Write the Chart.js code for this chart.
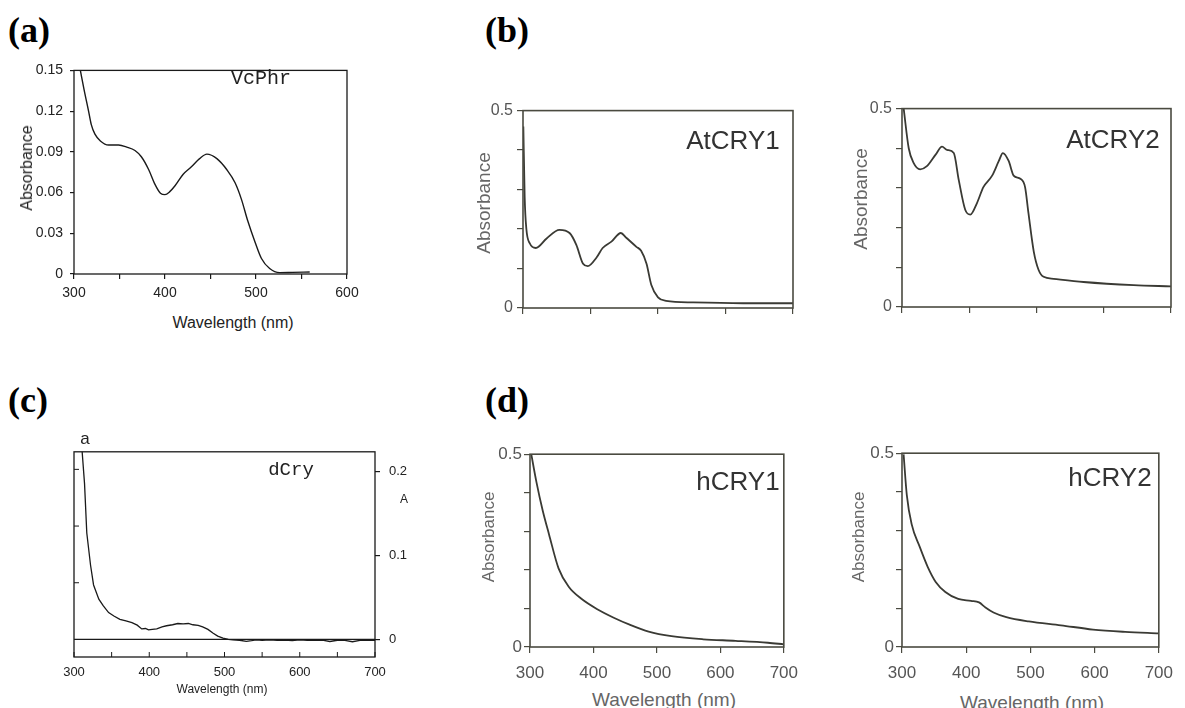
<!DOCTYPE html>
<html>
<head>
<meta charset="utf-8">
<script src="https://cdn.jsdelivr.net/npm/chart.js@4.4.0/dist/chart.umd.min.js"></script>
<style>
  html, body { margin: 0; padding: 0; background: #fff; }
  #fig { position: relative; width: 1185px; height: 708px; overflow: hidden; background: #fff; }
  .lbl { position: absolute; white-space: nowrap; line-height: 1; transform: translate(-50%, -50%); }
  .tag { position: absolute; font: bold 36px "Liberation Serif", serif; color: #000; line-height: 1; }
</style>
</head>
<body>
<div id="fig"></div>
<script>
'use strict';

// --- DATA ---
// (a) VcPhr
const wlVc  = [307, 311, 316, 319, 323, 329, 338, 349, 358, 367, 374, 382, 389, 395, 400, 405, 411, 420, 429, 438, 446, 457, 468, 477, 484, 491, 499, 506, 515, 526, 540, 559];
const absVc = [0.150, 0.136, 0.120, 0.110, 0.103, 0.098, 0.095, 0.095, 0.0935, 0.091, 0.0864, 0.077, 0.066, 0.0595, 0.0585, 0.0605, 0.065, 0.0735, 0.079, 0.085, 0.0883, 0.085, 0.0768, 0.0672, 0.055, 0.039, 0.0234, 0.0114, 0.004, 0.001, 0.0012, 0.0015];

// (b) AtCRY1 / AtCRY2
const wlAt1  = [300.5, 302.5, 305, 310, 319, 335, 354, 369, 379, 389, 396, 409, 418, 431, 445, 453, 468, 475, 483, 490, 500, 512, 552, 626, 700];
const absAt1 = [0.46, 0.28, 0.20, 0.164, 0.152, 0.176, 0.198, 0.19, 0.16, 0.112, 0.106, 0.128, 0.152, 0.168, 0.19, 0.178, 0.155, 0.145, 0.112, 0.059, 0.027, 0.018, 0.014, 0.012, 0.012];
const wlAt2  = [302.5, 310, 317, 327, 337, 350, 359.5, 367, 377, 384.5, 394, 401.6, 411.5, 421, 434, 444, 450, 458.6, 466, 476, 483, 488, 496, 503, 510.6, 525.5, 570, 644.5, 700];
const absAt2 = [0.5, 0.4, 0.364, 0.347, 0.355, 0.384, 0.404, 0.396, 0.388, 0.319, 0.245, 0.233, 0.262, 0.302, 0.331, 0.368, 0.388, 0.368, 0.331, 0.323, 0.302, 0.237, 0.139, 0.094, 0.076, 0.071, 0.063, 0.055, 0.052];

// (c) dCry
const wlDc  = [309, 311, 314, 317, 322, 326, 333, 339, 346, 353, 361, 369, 377, 384, 390, 395, 399, 404, 410, 417, 423, 431, 438, 445, 452, 458, 465, 471, 478, 485, 491, 498, 505, 511, 520, 529, 536, 542, 550, 560, 570, 580, 590, 600, 610, 620, 630, 640, 650, 660, 670, 680, 690, 700];
const absDc = [0.25, 0.222, 0.186, 0.127, 0.0885, 0.065, 0.048, 0.040, 0.032, 0.028, 0.024, 0.022, 0.020, 0.017, 0.0125, 0.013, 0.0113, 0.012, 0.0125, 0.015, 0.0163, 0.0175, 0.019, 0.0185, 0.019, 0.0175, 0.0168, 0.015, 0.012, 0.0074, 0.004, 0.0016, 0.000, -0.0004, -0.001, -0.0023, -0.0015, -0.0004, -0.001, -0.0005, -0.0012, -0.0008, -0.0015, -0.0006, -0.001, -0.0012, -0.0008, -0.0025, -0.001, -0.0012, -0.0028, -0.0012, -0.0008, -0.0010];
const wlZero  = [300, 700];
const absZero = [0, 0];

// (d) hCRY1 / hCRY2
const wlH1  = [302, 310, 320, 330, 345, 361, 381, 406, 432, 457, 487, 523, 573, 624, 675, 700];
const absH1 = [0.5, 0.429, 0.354, 0.292, 0.204, 0.156, 0.125, 0.098, 0.076, 0.058, 0.040, 0.028, 0.020, 0.016, 0.011, 0.007];
const wlH2  = [302.5, 307.5, 315, 327.5, 340, 352.5, 367.5, 387.5, 407.5, 420, 430, 442.5, 462.5, 497.5, 547.5, 597.5, 647.5, 700];
const absH2 = [0.497, 0.392, 0.317, 0.259, 0.207, 0.168, 0.142, 0.124, 0.119, 0.115, 0.102, 0.089, 0.077, 0.066, 0.056, 0.045, 0.039, 0.035];

// --- TICKS ---
const aTickX = [300, 350, 400, 450, 500, 550, 600];
const aTickXLabels = ['300', '', '400', '', '500', '', '600'];
const aTickY = [0, 0.03, 0.06, 0.09, 0.12, 0.15];
const aTickYLabels = ['0', '0.03', '0.06', '0.09', '0.12', '0.15'];

const bdTickX = [300, 400, 500, 600, 700];
const bTickXLabels = ['', '', '', '', ''];
const dTickXLabels = ['300', '400', '500', '600', '700'];
const bdTickY = [0, 0.1, 0.2, 0.3, 0.4, 0.5];
const bdTickYLabels = ['0', '', '', '', '', '0.5'];

const cTickX = [300, 350, 400, 450, 500, 550, 600, 650, 700];
const cTickXLabels = ['300', '', '400', '', '500', '', '600', '', '700'];
const cTickY = [0, 0.1, 0.2];
const cTickYLabels = ['0', '0.1', '0.2'];
const cTickLeft = [1, 2, 3];

// --- HELPERS ---
const fig = document.getElementById('fig');

function addText(txt, cx, cy, css, rot) {
    const d = document.createElement('div');
    d.className = 'lbl';
    d.textContent = txt;
    d.style.cssText = `left:${cx}px;top:${cy}px;${css}` + (rot ? 'transform:translate(-50%,-50%) rotate(-90deg);' : '');
    fig.appendChild(d);
}

function addTag(txt, left, top) {
    const d = document.createElement('div');
    d.className = 'tag';
    d.textContent = txt;
    d.style.left = left + 'px';
    d.style.top = top + 'px';
    fig.appendChild(d);
}

// box around the plot area + inward ticks where the original has them
const framePlugin = {
    id: 'frame',
    afterDraw(chart, args, opts) {
        const { ctx, chartArea: ca } = chart;
        ctx.save();
        ctx.strokeStyle = opts.color;
        ctx.lineWidth = opts.width;
        ctx.strokeRect(ca.left, ca.top, ca.right - ca.left, ca.bottom - ca.top);
        (opts.inner || []).forEach(spec => {
            const s = chart.scales[spec.axis];
            ctx.lineWidth = 1;
            s.ticks.forEach(t => {
                const p = s.getPixelForValue(t.value);
                ctx.beginPath();
                if (s.isHorizontal()) {
                    ctx.moveTo(p, ca.bottom);
                    ctx.lineTo(p, ca.bottom - spec.len);
                } else {
                    ctx.moveTo(ca.left, p);
                    ctx.lineTo(ca.left + spec.len, p);
                }
                ctx.stroke();
            });
        });
        ctx.restore();
    }
};

function makeAxis(o) {
    return {
        type: 'linear',
        axis: o.axis,
        position: o.pos,
        min: o.min,
        max: o.max,
        afterBuildTicks: s => { s.ticks = o.vals.map(v => ({ value: v })); },
        afterFit: s => { if (o.axis === 'x') s.height = o.size; else s.width = o.size; },
        ticks: {
            display: !!o.labels,
            autoSkip: false,
            maxRotation: 0,
            minRotation: 0,
            padding: o.pad || 0,
            color: o.color,
            font: o.font,
            callback: (v, i) => (o.labels ? o.labels[i] : '')
        },
        grid: {
            display: o.tick > 0,
            drawOnChartArea: false,
            drawTicks: o.tick > 0,
            tickLength: o.tick,
            color: o.tickColor,
            lineWidth: 1.2
        },
        border: { display: false }
    };
}

function makePanel(p) {
    const [L, T, R, B] = p.area;
    const w = p.yw + (R - L) + p.pr;
    const h = p.pt + (B - T) + p.xh;
    const cv = document.createElement('canvas');
    cv.width = w;
    cv.height = h;
    cv.style.cssText = `position:absolute;left:${L - p.yw}px;top:${T - p.pt}px;width:${w}px;height:${h}px;`;
    fig.appendChild(cv);

    return new Chart(cv.getContext('2d'), {
        type: 'line',
        data: {
            datasets: p.series.map(s => ({
                data: s.x.map((x, i) => ({ x: x, y: s.y[i] })),
                borderColor: s.color,
                borderWidth: s.width,
                pointRadius: 0,
                tension: 0,
                cubicInterpolationMode: s.mode,
                fill: false,
                yAxisID: 'y'
            }))
        },
        options: {
            responsive: false,
            animation: false,
            devicePixelRatio: 1,
            layout: { padding: { top: p.pt, right: p.rightAxis ? 0 : p.pr, left: 0, bottom: 0 } },
            scales: p.scales,
            plugins: {
                legend: { display: false },
                tooltip: { enabled: false },
                frame: p.frame
            }
        },
        plugins: [framePlugin]
    });
}

const sans = 'Liberation Sans';
const blk = '#1a1a1a';
const gryLine = '#3a3a34';
const gryText = '#555';

// --- (a) VcPhr ---
makePanel({
    area: [74, 63, 347, 274], yw: 54, pt: 8, pr: 20, xh: 32,
    series: [{ x: wlVc, y: absVc, color: blk, width: 1.4, mode: 'monotone' }],
    frame: { color: blk, width: 1.3 },
    scales: {
        x: makeAxis({ axis: 'x', pos: 'bottom', min: 300, max: 600, vals: aTickX, labels: aTickXLabels, size: 32, tick: 5, pad: 6, color: '#222', tickColor: blk, font: { family: sans, size: 14 } }),
        y: makeAxis({ axis: 'y', pos: 'left', min: 0, max: 0.15, vals: aTickY, labels: aTickYLabels, size: 54, tick: 4, pad: 7, color: '#222', tickColor: blk, font: { family: sans, size: 14 } })
    }
});

// --- (b) AtCRY1, AtCRY2 ---
[[[523, 107, 793, 308], wlAt1, absAt1], [[902, 105, 1171, 307], wlAt2, absAt2]].forEach(([area, xs, ys]) => {
    makePanel({
        area: area, yw: 58, pt: 10, pr: 13, xh: 14,
        series: [{ x: xs, y: ys, color: gryLine, width: 1.8, mode: 'monotone' }],
        frame: { color: '#4a4a40', width: 1.6 },
        scales: {
            x: makeAxis({ axis: 'x', pos: 'bottom', min: 300, max: 700, vals: bdTickX, labels: bTickXLabels, size: 14, tick: 6, pad: 0, color: gryText, tickColor: '#4a4a40', font: { family: sans, size: 15 } }),
            y: makeAxis({ axis: 'y', pos: 'left', min: 0, max: 0.5, vals: bdTickY, labels: bdTickYLabels, size: 58, tick: 6, pad: 4, color: gryText, tickColor: '#4a4a40', font: { family: sans, size: 16 } })
        }
    });
});

// --- (c) dCry ---
makePanel({
    area: [74, 447, 375, 657], yw: 54, pt: 12, pr: 40, xh: 30, rightAxis: true,
    series: [
        { x: wlDc, y: absDc, color: blk, width: 1.3, mode: 'default' },
        { x: wlZero, y: absZero, color: blk, width: 1.2, mode: 'default' }
    ],
    frame: { color: blk, width: 1.3, inner: [{ axis: 'x', len: 5 }, { axis: 'yL', len: 5 }] },
    scales: {
        x: makeAxis({ axis: 'x', pos: 'bottom', min: 300, max: 700, vals: cTickX, labels: cTickXLabels, size: 30, tick: 0, pad: 8, color: '#222', font: { family: sans, size: 13 } }),
        y: makeAxis({ axis: 'y', pos: 'right', min: -0.021, max: 0.224, vals: cTickY, labels: cTickYLabels, size: 40, tick: 5, pad: 9, color: '#222', tickColor: blk, font: { family: sans, size: 13 } }),
        yL: makeAxis({ axis: 'y', pos: 'left', min: -0.31, max: 3.31, vals: cTickLeft, labels: null, size: 54, tick: 0 })
    }
});

// --- (d) hCRY1, hCRY2 ---
[[[530, 452, 793, 647], wlH1, absH1], [[902, 451, 1168, 647], wlH2, absH2]].forEach(([area, xs, ys]) => {
    makePanel({
        area: area, yw: 58, pt: 10, pr: 15, xh: 34,
        series: [{ x: xs, y: ys, color: gryLine, width: 1.8, mode: 'monotone' }],
        frame: { color: '#4a4a40', width: 1.6 },
        scales: {
            x: makeAxis({ axis: 'x', pos: 'bottom', min: 300, max: 700, vals: bdTickX, labels: dTickXLabels, size: 34, tick: 6, pad: 10, color: gryText, tickColor: '#4a4a40', font: { family: sans, size: 17 } }),
            y: makeAxis({ axis: 'y', pos: 'left', min: 0, max: 0.5, vals: bdTickY, labels: bdTickYLabels, size: 58, tick: 6, pad: 2, color: gryText, tickColor: '#4a4a40', font: { family: sans, size: 17 } })
        }
    });
});

// --- TEXT ---
addTag('(a)', 8, 12);
addTag('(b)', 485, 12);
addTag('(c)', 8, 382);
addTag('(d)', 485, 382);

const mono = 'font-family:"Liberation Mono",monospace;color:#222;';
const sansBlk = 'font-family:"Liberation Sans",sans-serif;color:#222;';
const sansGry = 'font-family:"Liberation Sans",sans-serif;color:#666;';
const sansLab = 'font-family:"Liberation Sans",sans-serif;color:#333;';

addText('VcPhr', 261, 79, mono + 'font-size:20px;');
addText('Absorbance', 27, 168, sansBlk + 'font-size:16px;', true);
addText('Wavelength (nm)', 233, 323, sansBlk + 'font-size:16px;');

addText('AtCRY1', 733, 140, sansLab + 'font-size:26px;');
addText('AtCRY2', 1113, 139, sansLab + 'font-size:26px;');
addText('Absorbance', 483, 203, sansGry + 'font-size:19px;', true);
addText('Absorbance', 860, 199, sansGry + 'font-size:19px;', true);

addText('a', 85, 438, sansBlk + 'font-size:17px;');
addText('dCry', 291, 470, mono + 'font-size:19px;');
addText('A', 404, 499, sansBlk + 'font-size:12px;');
addText('Wavelength (nm)', 222, 689, sansBlk + 'font-size:12px;');

addText('hCRY1', 738, 481, sansLab + 'font-size:26px;');
addText('hCRY2', 1110, 477, sansLab + 'font-size:26px;');
addText('Absorbance', 488, 537, sansGry + 'font-size:17px;', true);
addText('Absorbance', 858, 537, sansGry + 'font-size:17px;', true);
addText('Wavelength (nm)', 664, 699, sansGry + 'font-size:19px;');
addText('Wavelength (nm)', 1032, 702, sansGry + 'font-size:19px;');
</script>
</body>
</html>
